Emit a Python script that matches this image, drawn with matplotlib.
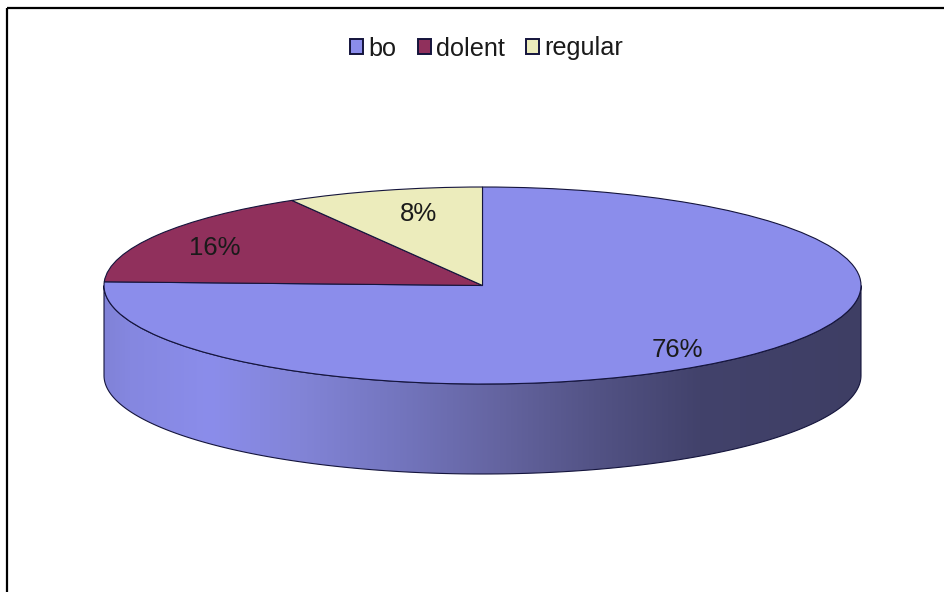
# -*- coding: UTF-8 -*-
import numpy as np
import matplotlib
matplotlib.use('Agg')
import matplotlib.pyplot as plt
from matplotlib.patches import Patch, Polygon
from matplotlib.transforms import Affine2D

labels = ['bo', 'dolent', 'regular']
values = [75.6, 16.0, 8.4]  # labels round to 76/16/8
colors = ['#8B8DEB', '#90305C', '#ECECBC']

# pie geometry in image pixels
cx, cy = 482.5, 285.5
rx, ry = 378.5, 98.5
depth = 90
edge = '#14143c'

# nudge of each percent label, in pixels (right, up)
label_dx = [-15, -8, 15]
label_dy = [-8, -3, -5]

plt.rcParams['font.family'] = ['Liberation Sans', 'DejaVu Sans']

fig = plt.figure(figsize=(9.44, 5.92), dpi=100)
ax = fig.add_axes([0, 0, 1, 1])

tr = Affine2D().scale(rx, -ry).translate(cx, cy) + ax.transData
wedges, texts, autotexts = ax.pie(values, colors=colors, startangle=90, counterclock=False,
                                  autopct='%.0f%%', pctdistance=0.8, radius=1,
                                  wedgeprops={'edgecolor': edge, 'linewidth': 0.8})
for w in wedges:
    w.set_transform(tr)
    w.set_zorder(3)
for i, t in enumerate(autotexts):
    t.set_transform(tr + Affine2D().translate(label_dx[i], label_dy[i]))
    t.set_fontsize(18.5)
    t.set_color('#1a1a1a')
    t.set_zorder(4)

# side wall of the pie, shaded left to right
theta = np.linspace(np.pi, 0, 200)
xs = cx + rx * np.cos(theta)
ys = cy + ry * np.sin(theta)
side = np.column_stack([np.r_[xs, xs[::-1]], np.r_[ys, ys[::-1] + depth]])
wall = Polygon(side, closed=True, facecolor='none', edgecolor=edge, linewidth=0.8,
               transform=ax.transData, zorder=2)
ax.add_patch(wall)

stop_x = [104, 130, 210, 300, 400, 500, 600, 700, 861]
stop_r = [128, 133, 139, 130, 115, 100, 82, 66, 62]
stop_g = [130, 135, 141, 132, 117, 100, 82, 66, 62]
stop_b = [215, 224, 235, 215, 190, 160, 132, 107, 100]
grad_x = np.arange(104, 862)
grad = np.stack([np.interp(grad_x, stop_x, stop_r),
                 np.interp(grad_x, stop_x, stop_g),
                 np.interp(grad_x, stop_x, stop_b)], axis=-1)[np.newaxis, :, :] / 255
im = ax.imshow(grad, extent=(104, 861, 480, 280), aspect='auto', zorder=1)
im.set_clip_path(wall)

# frame only on the top and left
ax.plot([6.5, 6.5], [592, 8], color='black', lw=1.6, solid_capstyle='butt', zorder=5)
ax.plot([6.5, 944], [8, 8], color='black', lw=1.6, solid_capstyle='butt', zorder=5)

handles = [Patch(facecolor=c, edgecolor=edge, linewidth=1.4) for c in colors]
ax.legend(handles, labels, ncol=3, loc='center', bbox_to_anchor=(486.5, 48.5),
          bbox_transform=ax.transData, frameon=False, fontsize=18.2, labelcolor='#1a1a1a',
          handlelength=0.52, handleheight=0.52, handletextpad=0.2, columnspacing=0.85,
          borderpad=0, borderaxespad=0)

ax.set_aspect('auto')
ax.set_xlim(0, 944)
ax.set_ylim(592, 0)
ax.axis('off')

fig.savefig('out.png', dpi=100)
